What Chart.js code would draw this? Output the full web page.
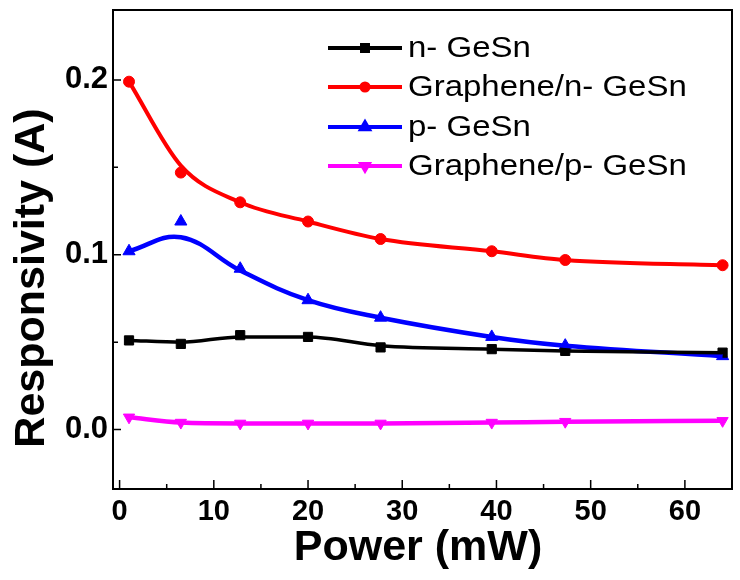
<!DOCTYPE html>
<html>
<head>
<meta charset="utf-8">
<script src="https://cdn.jsdelivr.net/npm/chart.js@4.4.1/dist/chart.umd.min.js"></script>
<style>
  html, body { margin: 0; padding: 0; background: #fff; }
  #wrap { width: 740px; height: 580px; }
</style>
</head>
<body>
<div id="wrap"><canvas id="respChart" width="740" height="580"></canvas></div>
<script>
// data
const powers = [1.0, 6.5, 12.8, 20.0, 27.7, 39.5, 47.3, 64.0];
const nGeSn = [0.051, 0.049, 0.054, 0.053, 0.047, 0.046, 0.045, 0.044];
const grNGeSn = [0.199, 0.147, 0.130, 0.119, 0.109, 0.102, 0.097, 0.094];
const pGeSn = [0.102, 0.119, 0.092, 0.074, 0.064, 0.053, 0.048, 0.042];
const grPGeSn = [0.007, 0.004, 0.0035, 0.0035, 0.0035, 0.004, 0.0045, 0.005];
// smoothed fit curves, read where they cross the marker x positions
const nGeSnFit = [0.051, 0.050, 0.053, 0.053, 0.048, 0.046, 0.045, 0.044];
const grNGeSnFit = [0.199, 0.151, 0.130, 0.119, 0.109, 0.102, 0.097, 0.094];
const pGeSnFit = [0.102, 0.110, 0.091, 0.074, 0.064, 0.053, 0.048, 0.042];

const seriesNames = ["n- GeSn", "Graphene/n- GeSn", "p- GeSn", "Graphene/p- GeSn"];
const xTicks = [0, 10, 20, 30, 40, 50, 60];
const xMinorTicks = [5, 15, 25, 35, 45, 55, 65];
const yTicks = [0.0, 0.1, 0.2];
const yMinorTicks = [0.05, 0.15];

const FONT = "'Liberation Sans', Arial, Helvetica, sans-serif";

function pts(vals) {
  return powers.map((x, i) => ({ x: x, y: vals[i] }));
}

const styles = [
  { color: "#000000", shape: "rect", r: 6.5, rot: 0, lw: 3.5, mono: true },
  { color: "#ff0000", shape: "circle", r: 5.5, rot: 0, lw: 4, mono: true },
  { color: "#0000ff", shape: "triangle", r: 7, rot: 0, lw: 4.5, mono: false },
  { color: "#ff00ff", shape: "triangle", r: 6.5, rot: 180, lw: 4.5, mono: true },
];
const fits = [nGeSnFit, grNGeSnFit, pGeSnFit, grPGeSn];
const marks = [nGeSn, grNGeSn, pGeSn, grPGeSn];

const datasets = [];
fits.forEach((vals, i) => {
  datasets.push({
    label: seriesNames[i] + " fit",
    data: pts(vals),
    borderColor: styles[i].color,
    borderWidth: styles[i].lw,
    pointRadius: 0,
    tension: 0.4,
    cubicInterpolationMode: styles[i].mono ? "monotone" : "default",
    fill: false,
  });
});
marks.forEach((vals, i) => {
  datasets.push({
    label: seriesNames[i],
    data: pts(vals),
    showLine: false,
    borderColor: styles[i].color,
    backgroundColor: styles[i].color,
    borderWidth: 1,
    pointStyle: styles[i].shape,
    pointRadius: styles[i].r,
    pointRotation: styles[i].rot,
  });
});

// frame, inward ticks, axis titles and legend
const framePlugin = {
  id: "frame",
  afterDraw(chart) {
    const ctx = chart.ctx;
    const a = chart.chartArea;
    const xs = chart.scales.x;
    const ys = chart.scales.y;
    ctx.save();
    ctx.strokeStyle = "#000";
    ctx.lineWidth = 2;
    ctx.strokeRect(a.left, a.top, a.right - a.left, a.bottom - a.top);

    ctx.lineWidth = 1.5;
    ctx.beginPath();
    xTicks.forEach((v) => {
      const px = xs.getPixelForValue(v);
      ctx.moveTo(px, a.bottom);
      ctx.lineTo(px, a.bottom - 9);
    });
    xMinorTicks.forEach((v) => {
      const px = xs.getPixelForValue(v);
      if (px > a.right) return;
      ctx.moveTo(px, a.bottom);
      ctx.lineTo(px, a.bottom - 5);
    });
    yTicks.forEach((v) => {
      const py = ys.getPixelForValue(v);
      ctx.moveTo(a.left, py);
      ctx.lineTo(a.left + 8, py);
    });
    yMinorTicks.forEach((v) => {
      const py = ys.getPixelForValue(v);
      ctx.moveTo(a.left, py);
      ctx.lineTo(a.left + 5, py);
    });
    ctx.stroke();

    // axis titles
    ctx.fillStyle = "#000";
    ctx.font = "bold 43px " + FONT;
    ctx.textAlign = "center";
    ctx.textBaseline = "middle";
    ctx.fillText("Power (mW)", 418, 548);
    ctx.save();
    ctx.translate(32, 278);
    ctx.rotate(-Math.PI / 2);
    ctx.fillText("Responsivity (A)", 0, 0);
    ctx.restore();

    // legend
    const rows = [48, 87, 127, 166];
    ctx.font = "30px " + FONT;
    ctx.textAlign = "left";
    rows.forEach((y, i) => {
      const s = styles[i];
      ctx.strokeStyle = s.color;
      ctx.fillStyle = s.color;
      ctx.lineWidth = 4;
      ctx.beginPath();
      ctx.moveTo(328, y);
      ctx.lineTo(402, y);
      ctx.stroke();
      Chart.helpers.drawPoint(ctx, {
        pointStyle: s.shape,
        radius: s.r * 0.65,
        rotation: s.rot,
        borderWidth: 1,
      }, 365, y);
      ctx.fillStyle = "#000";
      ctx.save();
      ctx.translate(408, y + 1);
      ctx.scale(1.1, 1);
      ctx.fillText(seriesNames[i], 0, 0);
      ctx.restore();
    });
    ctx.restore();
  },
};

const ctx = document.getElementById("respChart");

new Chart(ctx, {
  type: "line",
  data: { datasets: datasets },
  options: {
    responsive: false,
    animation: false,
    layout: { padding: { top: 10, right: 1, left: 0, bottom: 0 } },
    plugins: { legend: { display: false }, tooltip: { enabled: false } },
    scales: {
      x: {
        type: "linear",
        min: -0.7,
        max: 65,
        grid: { display: false, drawTicks: false },
        border: { display: false },
        afterBuildTicks: (scale) => {
          scale.ticks = xTicks.map((v) => ({ value: v }));
        },
        afterFit: (scale) => {
          scale.height = 91;
          scale.paddingLeft = 0;
          scale.paddingRight = 0;
        },
        ticks: {
          padding: 6,
          color: "#000",
          font: { family: FONT, size: 29, weight: "bold" },
          callback: (v) => String(v),
        },
      },
      y: {
        type: "linear",
        min: -0.034,
        max: 0.24,
        grid: { display: false, drawTicks: false },
        border: { display: false },
        afterBuildTicks: (scale) => {
          scale.ticks = yTicks.map((v) => ({ value: v }));
        },
        afterFit: (scale) => {
          scale.width = 113;
          scale.paddingTop = 0;
          scale.paddingBottom = 0;
        },
        ticks: {
          padding: 5,
          color: "#000",
          font: { family: FONT, size: 31, weight: "bold" },
          callback: (v) => v.toFixed(1),
        },
      },
    },
  },
  plugins: [framePlugin],
});
</script>
</body>
</html>
